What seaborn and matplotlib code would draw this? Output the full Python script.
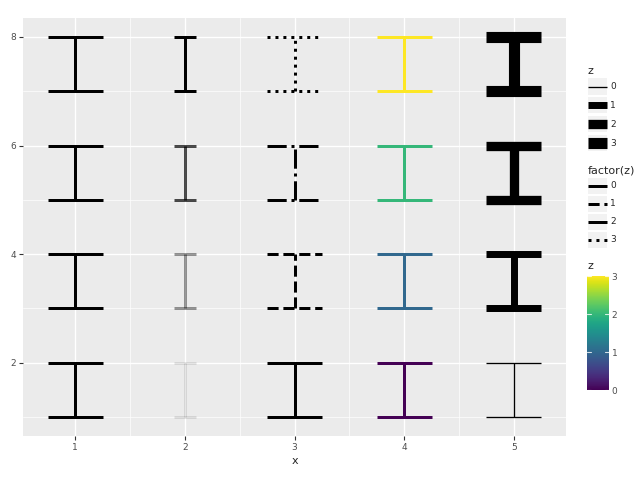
import numpy as np
import pandas as pd
import matplotlib as mpl
import matplotlib.pyplot as plt
import seaborn as sns
from matplotlib.lines import Line2D
from matplotlib.patches import Rectangle
from matplotlib.legend_handler import HandlerBase
from matplotlib.ticker import MultipleLocator

# data: four error bars per column, one column per aesthetic
z = [0, 1, 2, 3]
ymin = [1, 3, 5, 7]
ymax = [2, 4, 6, 8]
cols = [1, 2, 3, 4, 5]
widths = [0.5, 0.2, 0.5, 0.5, 0.5]
linetypes = ['-', '--', '-.', ':']
size_range = (0.95, 8.0)     # points
alpha_range = (0.1, 1.0)

sns.set_theme(style="darkgrid", rc={
    'axes.facecolor': '#EBEBEB',
    'grid.color': 'white',
    'figure.facecolor': 'white',
})
plt.rcParams['font.family'] = ['DejaVu Sans']

df = pd.DataFrame({'z': z, 'ymin': ymin, 'ymax': ymax})
zmax = max(z)
viridis = mpl.colormaps['viridis']
base_lw = 2.16


def errbar(ax, x, lo, hi, width, **kw):
    kw.setdefault('solid_capstyle', 'butt')
    kw.setdefault('dash_capstyle', 'butt')
    ax.plot([x - width / 2, x + width / 2], [hi, hi], **kw)
    ax.plot([x, x], [lo, hi], **kw)
    ax.plot([x - width / 2, x + width / 2], [lo, lo], **kw)


def size_of(v):
    return size_range[0] + (size_range[1] - size_range[0]) * np.sqrt(v / zmax)


class KeyHandler(HandlerBase):
    # legend key: grey square with the line drawn across it
    def create_artists(self, legend, orig_handle, xdescent, ydescent,
                       width, height, fontsize, trans):
        bg = Rectangle((-xdescent, -ydescent), width, height,
                       facecolor='#F2F2F2', edgecolor='none', transform=trans)
        ln = Line2D([-xdescent, -xdescent + width],
                    [height / 2 - ydescent, height / 2 - ydescent])
        ln.update_from(orig_handle)
        ln.set_transform(trans)
        return [bg, ln]


fig = plt.figure(figsize=(6.4, 4.8), dpi=100)
ax = fig.add_axes([23 / 640, 44 / 480, (566 - 23) / 640, (436 - 18) / 480])

for i, row in df.iterrows():
    zz = row['z']
    # column 1: plain
    errbar(ax, cols[0], row['ymin'], row['ymax'], widths[0], color='black', lw=base_lw)
    # column 2: alpha
    a = alpha_range[0] + (alpha_range[1] - alpha_range[0]) * zz / zmax
    errbar(ax, cols[1], row['ymin'], row['ymax'], widths[1], color='black', lw=base_lw, alpha=a)
    # column 3: linetype
    errbar(ax, cols[2], row['ymin'], row['ymax'], widths[2], color='black', lw=base_lw,
           linestyle=linetypes[int(zz)])
    # column 4: colour
    errbar(ax, cols[3], row['ymin'], row['ymax'], widths[3], color=viridis(zz / zmax), lw=base_lw)
    # column 5: size (area scale)
    errbar(ax, cols[4], row['ymin'], row['ymax'], widths[4], color='black', lw=size_of(zz))

ax.set_xlim(0.525, 5.475)
ax.set_ylim(0.65, 8.35)
ax.set_xticks(cols)
ax.set_yticks([2, 4, 6, 8])
ax.xaxis.set_minor_locator(MultipleLocator(0.5))
ax.yaxis.set_minor_locator(MultipleLocator(1))
ax.grid(which='major', color='white', lw=1.0)
ax.grid(which='minor', color='white', lw=0.5)
for sp in ax.spines.values():
    sp.set_visible(False)
ax.tick_params(which='major', bottom=True, left=True, length=3, width=0.8,
               color='#333333', labelsize=6.5, labelcolor='#4D4D4D', pad=2)
ax.tick_params(which='minor', bottom=False, left=False)
ax.set_xlabel('x', fontsize=8, labelpad=3)
ax.set_ylabel('')

# legends
key_kw = dict(frameon=False, loc='upper left', fontsize=6.5, title_fontsize=8,
              handlelength=2.1, handleheight=2.35, handletextpad=0.4, borderaxespad=0,
              alignment='left', handler_map={Line2D: KeyHandler()})

size_handles = [Line2D([], [], color='black', solid_capstyle='butt', lw=size_of(v)) for v in z]
fig.legend(size_handles, [str(v) for v in z], title='z', labelspacing=0.32,
           bbox_to_anchor=(584 / 640, 1 - 62 / 480), **key_kw)
lt_handles = [Line2D([], [], color='black', lw=base_lw, linestyle=lt,
                     dash_capstyle='butt', solid_capstyle='butt') for lt in linetypes]
fig.legend(lt_handles, [str(v) for v in z], title='factor(z)', labelspacing=0.22,
           bbox_to_anchor=(584 / 640, 1 - 162 / 480), **key_kw)

cax = fig.add_axes([587 / 640, 90 / 480, 22 / 640, 114 / 480])
cb = fig.colorbar(mpl.cm.ScalarMappable(norm=mpl.colors.Normalize(0, zmax), cmap='viridis'),
                  cax=cax, ticks=z)
cb.outline.set_visible(False)
cax.tick_params(length=0, labelsize=6.5, labelcolor='#4D4D4D', pad=2)
for v in z:
    cax.plot([0, 0.2], [v, v], color='white', lw=0.8, alpha=0.8)
    cax.plot([0.8, 1], [v, v], color='white', lw=0.8, alpha=0.8)
cax.set_xlim(0, 1)
fig.text(587 / 640, 1 - 266 / 480, 'z', fontsize=8, va='center', ha='left')

plt.savefig('out.png', dpi=100)
